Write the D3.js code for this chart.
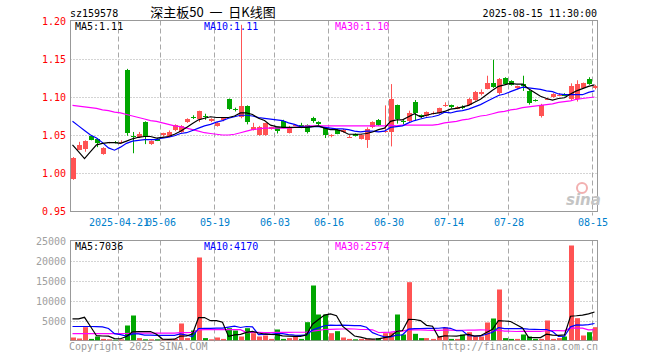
<!DOCTYPE html>
<html>
<head>
<meta charset="utf-8">
<script src="https://cdn.jsdelivr.net/npm/d3@7"></script>
<style>
  body { margin: 0; background: #fff; }
  svg { display: block; }
  text { font-family: "DejaVu Sans Mono", monospace; font-size: 10px; }
</style>
</head>
<body>
<div class="item"></div>
<script>
// 深主板50 日K线 (sz159578)
var open  = [0.992,1.031,1.032,1.049,1.045,1.025,1.040,1.041,1.041,1.136,1.049,1.047,1.067,1.038,1.045,1.049,1.048,1.056,1.054,1.067,
             1.074,1.070,1.075,1.068,1.062,1.069,1.097,1.084,1.073,1.088,1.057,1.050,1.050,1.058,1.060,1.068,1.053,1.063,1.063,1.063,
             1.072,1.067,1.059,1.049,1.057,1.054,1.048,1.051,1.045,1.043,1.060,1.070,1.054,1.054,1.089,1.068,1.068,1.094,1.076,1.075,
             1.078,1.079,1.089,1.089,1.085,1.087,1.090,1.096,1.103,1.111,1.119,1.106,1.125,1.121,1.111,1.117,1.108,1.096,1.075,1.097,
             1.100,1.102,1.104,1.098,1.097,1.112,1.124,1.112];
var high  = [1.021,1.041,1.043,1.050,1.046,1.034,1.041,1.042,1.043,1.137,1.054,1.054,1.068,1.043,1.046,1.053,1.056,1.064,1.063,1.072,
             1.076,1.082,1.078,1.072,1.067,1.073,1.098,1.086,1.195,1.089,1.066,1.062,1.066,1.061,1.061,1.070,1.062,1.064,1.066,1.064,
             1.074,1.068,1.060,1.051,1.058,1.058,1.050,1.052,1.051,1.060,1.068,1.071,1.089,1.117,1.090,1.070,1.082,1.096,1.077,1.081,
             1.081,1.086,1.093,1.090,1.088,1.089,1.099,1.108,1.110,1.128,1.149,1.125,1.126,1.122,1.115,1.128,1.109,1.097,1.091,1.099,
             1.105,1.105,1.105,1.118,1.122,1.119,1.126,1.116];
var low   = [0.991,1.030,1.028,1.043,1.034,1.024,1.039,1.039,1.039,1.049,1.026,1.046,1.038,1.037,1.042,1.048,1.047,1.055,1.053,1.066,
             1.071,1.067,1.070,1.067,1.061,1.068,1.083,1.081,1.072,1.064,1.056,1.049,1.049,1.057,1.052,1.059,1.052,1.062,1.059,1.052,
             1.066,1.063,1.046,1.047,1.051,1.053,1.046,1.048,1.044,1.033,1.059,1.062,1.053,1.035,1.065,1.064,1.067,1.069,1.072,1.074,
             1.077,1.078,1.087,1.085,1.084,1.084,1.089,1.095,1.102,1.110,1.112,1.103,1.116,1.115,1.110,1.108,1.090,1.094,1.073,1.096,
             1.099,1.101,1.101,1.096,1.094,1.111,1.116,1.110];
var close = [1.020,1.037,1.042,1.044,1.040,1.033,1.041,1.040,1.041,1.053,1.048,1.051,1.047,1.042,1.043,1.052,1.054,1.063,1.062,1.071,
             1.073,1.081,1.074,1.071,1.066,1.072,1.084,1.083,1.088,1.067,1.061,1.061,1.066,1.060,1.055,1.060,1.061,1.063,1.060,1.054,
             1.068,1.064,1.050,1.050,1.052,1.057,1.048,1.049,1.050,1.058,1.067,1.063,1.055,1.097,1.070,1.067,1.079,1.079,1.073,1.080,
             1.079,1.085,1.090,1.086,1.087,1.086,1.098,1.107,1.106,1.119,1.114,1.124,1.117,1.116,1.114,1.115,1.092,1.095,1.090,1.098,
             1.104,1.103,1.102,1.115,1.117,1.118,1.117,1.114];
var volume = [750,500,3330,400,1000,400,300,200,300,3750,6250,600,300,300,300,300,300,400,4250,600,
              2500,20750,600,300,750,400,3080,2500,1000,3080,1830,1000,1250,400,2750,400,600,1000,400,4580,
              13750,6500,6500,1830,2330,750,400,300,400,400,300,600,1830,2000,6500,1500,14580,1670,600,600,
              400,1000,3250,400,400,1500,2080,1000,1000,4500,5500,12750,600,400,400,1500,1000,400,400,5000,
              400,600,1000,23750,5580,1250,2080,3330];

// 均线
var ma5 = [1.037,1.028,1.019,1.028,1.037,1.039,1.040,1.040,1.039,1.042,1.045,1.047,1.048,1.048,1.046,1.047,1.048,1.051,1.055,1.060,
           1.065,1.070,1.072,1.074,1.073,1.073,1.073,1.075,1.079,1.079,1.077,1.072,1.069,1.063,1.061,1.060,1.060,1.060,1.060,1.060,
           1.061,1.062,1.059,1.057,1.057,1.055,1.051,1.051,1.051,1.052,1.054,1.057,1.059,1.068,1.070,1.070,1.074,1.078,1.074,1.076,
           1.078,1.079,1.081,1.084,1.085,1.087,1.089,1.093,1.097,1.103,1.109,1.114,1.116,1.118,1.117,1.117,1.111,1.106,1.101,1.098,
           1.096,1.098,1.099,1.104,1.108,1.111,1.114,1.116];
var ma10 = [1.068,1.062,1.056,1.050,1.046,1.040,1.033,1.030,1.034,1.039,1.042,1.043,1.044,1.044,1.044,1.046,1.047,1.049,1.052,1.053,
            1.056,1.059,1.062,1.064,1.067,1.069,1.072,1.074,1.076,1.076,1.075,1.073,1.072,1.071,1.070,1.069,1.066,1.064,1.061,1.060,
            1.061,1.061,1.060,1.059,1.058,1.058,1.057,1.055,1.054,1.055,1.055,1.054,1.055,1.060,1.061,1.062,1.066,1.069,1.071,1.073,
            1.074,1.076,1.080,1.079,1.081,1.082,1.084,1.087,1.090,1.094,1.098,1.102,1.104,1.107,1.110,1.113,1.112,1.111,1.110,1.108,
            1.107,1.104,1.103,1.103,1.103,1.103,1.106,1.108];
var ma30 = [1.089,1.088,1.087,1.086,1.085,1.083,1.082,1.080,1.079,1.077,1.075,1.073,1.071,1.069,1.068,1.066,1.064,1.062,1.061,1.059,
            1.057,1.055,1.053,1.052,1.051,1.050,1.050,1.051,1.053,1.055,1.057,1.058,1.059,1.059,1.059,1.059,1.059,1.060,1.061,1.062,
            1.062,1.062,1.062,1.062,1.062,1.062,1.062,1.062,1.062,1.062,1.062,1.062,1.062,1.063,1.062,1.063,1.063,1.063,1.063,1.063,
            1.063,1.064,1.066,1.067,1.068,1.070,1.071,1.073,1.075,1.076,1.078,1.080,1.081,1.083,1.084,1.086,1.087,1.088,1.089,1.090,
            1.091,1.093,1.094,1.095,1.097,1.098,1.099,1.100];
var vma5 = [5400,5400,5800,3500,1196,1126,1086,460,440,990,2160,2220,2240,2240,1550,360,300,320,1110,1170,
            1610,5700,5740,4950,4980,4560,1026,1406,1546,2012,2298,1882,1632,1512,1446,1160,1080,1030,1030,1396,
            4066,5246,6346,6632,6182,3582,2362,1122,836,450,360,400,706,1026,2246,2486,5282,5250,4970,3790,
            3570,854,1170,1130,1090,1310,1526,1076,1196,2016,2816,4950,4870,4750,3930,3130,780,740,740,1580,
            1360,1280,1400,6070,6186,6356,6652,7118];
var vma10 = [3500,3500,3500,3500,3450,3400,3000,1700,1450,1093,1643,1653,1350,1340,1270,1260,1260,1280,1675,1360,
             985,3000,3030,3030,3075,3085,3363,3573,3248,3496,3429,1454,1519,1529,1729,1729,1481,1331,1271,1421,
             2613,3163,3688,3831,3789,3824,3804,3734,3734,3316,1971,1381,914,931,1348,1423,2841,2978,2998,3018,
             3028,3068,3210,3050,2440,2440,1190,1123,1163,1553,2063,3238,2973,2973,2973,2973,2865,2805,2745,2755,
             2245,1030,1070,3405,3883,3858,3966,4259];
var vma30 = [1700,1700,1700,1700,1700,1700,1700,1700,1700,1750,1850,1850,1850,1850,1850,1850,1850,1850,1950,1950,
             2000,2650,2700,2700,2700,2700,2700,2700,2700,1983,2019,2036,1966,1966,2025,2025,2035,2061,2065,2092,
             2342,2539,2746,2797,2864,2879,2883,2879,2751,2744,2671,1999,2040,2097,2289,2325,2709,2681,2668,2585,
             2537,2537,2604,2604,2526,2562,2612,2612,2632,2629,2354,2562,2366,2318,2254,2279,2299,2302,2302,2442,
             2445,2445,2418,3143,3099,3090,2674,2729];

var tickIdx    = [8, 15, 24, 34, 43, 53, 63, 73, 87];
var tickLabels = ["2025-04-21","05-06","05-19","06-03","06-16","06-30","07-14","07-28","08-15"];
var priceTicks = [0.95, 1.00, 1.05, 1.10, 1.15, 1.20];
var volTicks   = [5000, 10000, 15000, 20000, 25000];

var width = 660, height = 360;
var left = 70.5, right = 597.5;
var RED = "#ff5353", GREEN = "#00a600";

var svg = d3.select(".item").append("svg")
    .attr("width", width)
    .attr("height", height);

var n = close.length;
var idx = d3.range(n);
var x = d3.scaleLinear().domain([0, n - 1]).range([72.5, 594.5]);
var y = d3.scaleLinear().domain([0.95, 1.20]).range([211, 21]);
var yv = d3.scaleLinear().domain([0, 25000]).range([340.5, 240.5]);

svg.append("clipPath").attr("id", "clipTop")
  .append("rect").attr("x", left).attr("y", 20.5).attr("width", right - left).attr("height", 191);
svg.append("clipPath").attr("id", "clipVol")
  .append("rect").attr("x", left).attr("y", 240.5).attr("width", right - left).attr("height", 100);

// 网格
function grid(top, bottom, ys) {
  svg.append("g").selectAll("line").data(ys).enter().append("line")
    .attr("x1", left).attr("x2", right)
    .attr("y1", function(d){ return Math.round(d) + 0.5; })
    .attr("y2", function(d){ return Math.round(d) + 0.5; })
    .attr("stroke", "#a8a8a8").attr("stroke-dasharray", "1,2");
  svg.append("g").selectAll("line").data(tickIdx).enter().append("line")
    .attr("x1", function(i){ return Math.round(x(i)) - 2.5; })
    .attr("x2", function(i){ return Math.round(x(i)) - 2.5; })
    .attr("y1", top).attr("y2", bottom + 4)
    .attr("stroke", "#a8a8a8").attr("stroke-dasharray", "5,3");
}
grid(20.5, 211.5, priceTicks.slice(1, 5).map(y));
grid(240.5, 340.5, volTicks.slice(0, 4).map(yv));

// 边框
svg.append("rect").attr("x", left).attr("y", 20.5).attr("width", right - left).attr("height", 191)
  .attr("fill", "none").attr("stroke", "#999");
svg.append("rect").attr("x", left).attr("y", 240.5).attr("width", right - left).attr("height", 100)
  .attr("fill", "none").attr("stroke", "#999");

// 新浪水印
svg.append("circle").attr("cx", 582).attr("cy", 188).attr("r", 5)
  .attr("fill", "none").attr("stroke", "#f2b0b0").attr("stroke-width", 2);
svg.append("text").attr("x", 566).attr("y", 205).text("sina")
  .style("font-family", "'DejaVu Sans'").style("font-size", "15px")
  .style("font-weight", "bold").style("font-style", "italic").attr("fill", "#c4c4c4");

// K线
var kg = svg.append("g").attr("clip-path", "url(#clipTop)");
var color = function(i){ return close[i] >= open[i] ? RED : GREEN; };

kg.selectAll(".wick").data(idx).enter().append("line")
  .attr("class", "wick")
  .attr("x1", function(i){ return Math.round(x(i)) + 0.5; })
  .attr("x2", function(i){ return Math.round(x(i)) + 0.5; })
  .attr("y1", function(i){ return y(high[i]); })
  .attr("y2", function(i){ return y(low[i]); })
  .attr("stroke", color);

kg.selectAll(".body").data(idx).enter().append("rect")
  .attr("class", "body")
  .attr("x", function(i){ return Math.round(x(i)) - 2; })
  .attr("width", 5)
  .attr("y", function(i){ return Math.round(y(Math.max(open[i], close[i]))); })
  .attr("height", function(i){
    return Math.max(1, Math.round(Math.abs(y(open[i]) - y(close[i]))));
  })
  .attr("fill", color);

// 均线
function maLine(g, data, sy, col) {
  g.append("path")
    .datum(data)
    .attr("fill", "none")
    .attr("stroke", col)
    .attr("stroke-width", 1.2)
    .attr("d", d3.line().x(function(d, i){ return x(i); }).y(function(d){ return sy(d); }));
}
maLine(kg, ma30, y, "#ff00ff");
maLine(kg, ma10, y, "#0000ff");
maLine(kg, ma5, y, "#000000");

// 成交量
var vg = svg.append("g").attr("clip-path", "url(#clipVol)");
vg.selectAll(".vbar").data(idx).enter().append("rect")
  .attr("class", "vbar")
  .attr("x", function(i){ return Math.round(x(i)) - 2; })
  .attr("width", 5)
  .attr("y", function(i){ return yv(volume[i]); })
  .attr("height", function(i){ return yv(0) - yv(volume[i]); })
  .attr("fill", color);
maLine(vg, vma30, yv, "#ff00ff");
maLine(vg, vma10, yv, "#0000ff");
maLine(vg, vma5, yv, "#000000");

// 坐标文字
svg.append("g").selectAll("text").data(priceTicks).enter().append("text")
  .attr("x", 66).attr("y", function(d){ return y(d) + 4; })
  .attr("text-anchor", "end").attr("fill", "#ff0000")
  .text(function(d){ return d.toFixed(2); });
svg.append("g").selectAll("text").data(volTicks).enter().append("text")
  .attr("x", 66).attr("y", function(d){ return yv(d) + 4; })
  .attr("text-anchor", "end").attr("fill", "#a0a0a0")
  .text(function(d){ return d; });
svg.append("g").selectAll("text").data(tickIdx).enter().append("text")
  .attr("x", function(i){ return Math.round(x(i)) - 2; })
  .attr("y", 226)
  .attr("text-anchor", "middle").attr("fill", "#0080cc")
  .text(function(d, k){ return tickLabels[k]; });

// 标题
svg.append("text").attr("x", 70).attr("y", 17).attr("fill", "#000").text("sz159578");
svg.append("text").attr("x", 213).attr("y", 17).attr("text-anchor", "middle").attr("fill", "#000")
  .style("font-family", "'Noto Sans CJK SC'").style("font-size", "13px")
  .style("white-space", "pre")
  .text("深主板50\u00a0\u00a0一\u00a0\u00a0日K线图");
svg.append("text").attr("x", 597).attr("y", 17).attr("text-anchor", "end").attr("fill", "#000")
  .text("2025-08-15 11:30:00");

var maText = [["MA5:1.11", "#000", 75], ["MA10:1.11", "#0000ff", 204], ["MA30:1.10", "#ff00ff", 335]];
svg.append("g").selectAll("text").data(maText).enter().append("text")
  .attr("x", function(d){ return d[2]; }).attr("y", 30)
  .attr("fill", function(d){ return d[1]; }).text(function(d){ return d[0]; });
var vmaText = [["MA5:7036", "#000", 75], ["MA10:4170", "#0000ff", 204], ["MA30:2574", "#ff00ff", 335]];
svg.append("g").selectAll("text").data(vmaText).enter().append("text")
  .attr("x", function(d){ return d[2]; }).attr("y", 250)
  .attr("fill", function(d){ return d[1]; }).text(function(d){ return d[0]; });

svg.append("text").attr("x", 69).attr("y", 350).attr("fill", "#999").text("Copyright 2025 SINA.COM");
svg.append("text").attr("x", 598).attr("y", 350).attr("text-anchor", "end").attr("fill", "#999")
  .text("http://finance.sina.com.cn");
</script>
</body>
</html>
